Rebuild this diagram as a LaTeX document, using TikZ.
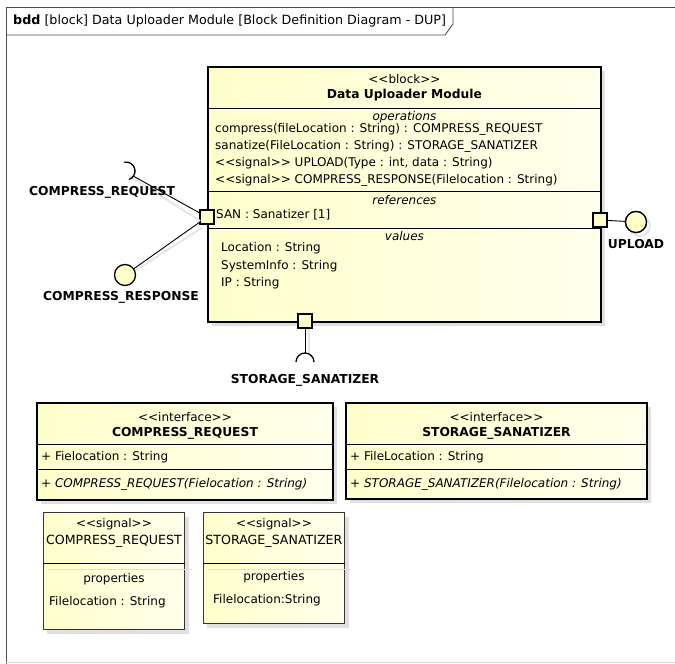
\documentclass[tikz,border=0pt]{standalone}
\usepackage{fontspec}
\setmainfont{DejaVu Sans}
\usetikzlibrary{positioning}
\definecolor{cream}{RGB}{255,255,204}
\definecolor{creamlight}{RGB}{255,255,236}
\newcommand{\stereo}[1]{<\kern0pt<#1>\kern0pt>}

\begin{document}
\begin{tikzpicture}[x=1pt,y=-1pt,
  every node/.style={inner sep=0pt, font=\fontsize{12}{14}\selectfont},
  frameline/.style={draw=black!70, line width=0.9pt},
  boxshadow/.style={fill=black!12, draw=none},
  thickbox/.style={draw=black, line width=1.9pt, left color=cream, right color=creamlight},
  thinbox/.style={draw=black!80, line width=0.9pt, left color=cream, right color=creamlight},
  septhick/.style={draw=black, line width=1pt},
  port/.style={draw=black, line width=1.5pt, fill=cream, minimum size=14pt},
  ball/.style={circle, draw=black, line width=1.3pt, fill=cream, minimum size=21pt},
  conn/.style={draw=black, line width=0.9pt},
  conshadow/.style={draw=black!10, line width=1.8pt},
  lbl/.style={font=\fontsize{12.3}{14}\selectfont\bfseries},
  head/.style={font=\fontsize{12}{14}\selectfont\itshape},
  txt/.style={anchor=west}
]
\useasboundingbox (0,0) rectangle (675,664);

% diagram frame
\draw[frameline] (675,7) -- (6,7) -- (6,664);
\draw[frameline] (6,35) -- (445,35) -- (453,24) -- (453,7);
\draw[black!15] (6,662) -- (675,662);
\node[anchor=west, font=\fontsize{12.7}{14}\selectfont] (hdr) at (13,21) {\textbf{bdd} [block] Data Uploader Module [Block Definition Diagram - DUP]};

% block
\fill[boxshadow] (212,71) rectangle (605,326);
\node[thickbox, anchor=north west, minimum width=393pt, minimum height=255pt] (dum) at (207,66) {};
\draw[septhick] (dum.west |- 0,108) -- (dum.east |- 0,108);
\draw[septhick] (dum.west |- 0,191) -- (dum.east |- 0,191);
\draw[septhick] (dum.west |- 0,228) -- (dum.east |- 0,228);
\node (dumst) at (dum.north |- 0,79) {\stereo{block}};
\node[lbl] (dumname) at (dum.north |- 0,95) {Data Uploader Module};
\node[head] (ophead) at (dum.north |- 0,117) {operations};
\node[txt] (op1) at (215,129) {compress(fileLocation : String) : COMPRESS\_REQUEST};
\node[txt] (op2) at (215,146) {sanatize(FileLocation : String) : STORAGE\_SANATIZER};
\node[txt] (op3) at (215,163) {\stereo{signal} UPLOAD(Type : int, data : String)};
\node[txt] (op4) at (215,180) {\stereo{signal} COMPRESS\_RESPONSE(Filelocation : String)};
\node[head] (refhead) at (dum.north |- 0,200) {references};
\node[txt] (ref1) at (216,215) {SAN : Sanatizer [1]};
\node[head] (valhead) at (dum.north |- 0,236) {values};
\node[txt] (val1) at (221,248) {Location : String};
\node[txt] (val2) at (221,266) {SystemInfo : String};
\node[txt] (val3) at (221,283) {IP : String};

% ports and interfaces
\node[port] (sanport) at (207,217) {};
\node[port] (upport) at (600,220) {};
\node[port] (ssport) at (305,321) {};

\coordinate (crsock) at (126,171);
\node[ball] (upball) at (636,222) {};
\node[ball] (crball) at (125,275) {};
\coordinate (sssock) at (305,362);

% shadows of the connectors
\draw[conshadow] ([shift={(3pt,-3pt)}]crball.north east) -- ([shift={(3pt,-3pt)}]sanport.south west);
\draw[conshadow] ([shift={(2pt,-4pt)}]crsock) -- ([shift={(1pt,-4pt)}]sanport.west);
\draw[conshadow] ([xshift=4pt]ssport.south) -- ([shift={(4pt,7pt)}]sssock);
\draw[conshadow] ([shift={(4pt,-4pt)}]upball) circle[radius=10pt];

\draw[conn] (upport) -- (upball);
\node[ball] at (upball) {};
\node[lbl, below=6pt of upball] (uplbl) {UPLOAD};

\draw[conn] (crball) -- (sanport);
\node[lbl, below=5pt of crball, xshift=-4pt] (crslbl) {COMPRESS\_RESPONSE};

\draw[conn, line width=1.3pt] ([shift={(100:9pt)}]crsock) arc[start angle=100, end angle=-70, radius=9pt];
\draw[conn] (sanport) -- ([shift={(-35:9pt)}]crsock);
\node[lbl] (crqlbl) at (102,192) {COMPRESS\_REQUEST};

\draw[conn] (ssport) -- ([yshift=9pt]sssock);
\draw[conn, line width=1.3pt] ([xshift=9pt]sssock) arc[start angle=0, end angle=180, radius=9pt];
\node[lbl, below=12pt of sssock] (sslbl) {STORAGE\_SANATIZER};

% interfaces
\fill[boxshadow] (41,407) rectangle (337,504);
\node[thickbox, anchor=north west, minimum width=296pt, minimum height=97pt] (crif) at (36,402) {};
\draw[septhick] (crif.west |- 0,444) -- (crif.east |- 0,444);
\draw[septhick] (crif.west |- 0,469) -- (crif.east |- 0,469);
\node (crifst) at (crif.north |- 0,417) {\stereo{interface}};
\node[lbl] (crifname) at (crif.north |- 0,433) {COMPRESS\_REQUEST};
\node[txt] (crifattr) at (41,457) {+ Fielocation : String};
\node[txt] (crifop) at (41,484) {+ \textit{COMPRESS\_REQUEST(Fielocation : String)}};

\fill[boxshadow] (350,407) rectangle (651,503);
\node[thickbox, anchor=north west, minimum width=301pt, minimum height=96pt] (ssif) at (345,402) {};
\draw[septhick] (ssif.west |- 0,444) -- (ssif.east |- 0,444);
\draw[septhick] (ssif.west |- 0,469) -- (ssif.east |- 0,469);
\node (ssifst) at (ssif.north |- 0,417) {\stereo{interface}};
\node[lbl] (ssifname) at (ssif.north |- 0,433) {STORAGE\_SANATIZER};
\node[txt] (ssifattr) at (350,457) {+ FileLocation : String};
\node[txt] (ssifop) at (350,484) {+ \textit{STORAGE\_SANATIZER(Filelocation : String)}};

% signals
\fill[boxshadow] (47,517) rectangle (189,634);
\node[thinbox, anchor=north west, minimum width=141pt, minimum height=117pt] (crsig) at (43,512) {};
\draw[septhick] (crsig.west |- 0,563) -- (crsig.east |- 0,563);
\draw[black!12] (48,569) -- (192,569);
\node (crsigst) at (crsig.north |- 0,524) {\stereo{signal}};
\node[font=\fontsize{12.6}{14}\selectfont] (crsigname) at (crsig.north |- 0,541) {COMPRESS\_REQUEST};
\node (crsigprop) at (crsig.north |- 0,579) {properties};
\node[txt] (crsigattr) at (49,602) {Filelocation : String};

\fill[boxshadow] (207,517) rectangle (349,628);
\node[thinbox, anchor=north west, minimum width=141pt, minimum height=111pt] (sssig) at (203,512) {};
\draw[septhick] (sssig.west |- 0,563) -- (sssig.east |- 0,563);
\draw[black!12] (208,569) -- (350,569);
\node (sssigst) at (sssig.north |- 0,524) {\stereo{signal}};
\node[font=\fontsize{12.6}{14}\selectfont] (sssigname) at (sssig.north |- 0,541) {STORAGE\_SANATIZER};
\node (sssigprop) at (sssig.north |- 0,577) {properties};
\node[txt] (sssigattr) at (213,600) {Filelocation:String};
\end{tikzpicture}
\end{document}
